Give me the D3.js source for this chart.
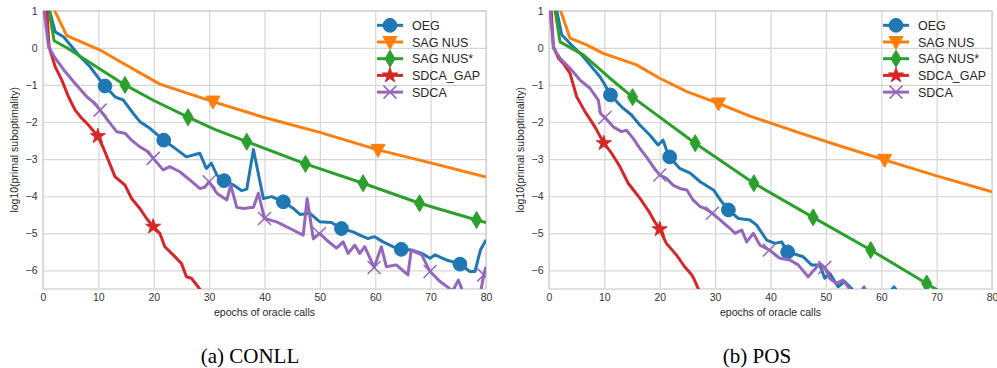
<!DOCTYPE html>
<html>
<head>
<meta charset="utf-8">
<script src="https://cdn.jsdelivr.net/npm/d3@7"></script>
<style>
body { margin: 0; background: #fff; }
</style>
</head>
<body>
<div id="chart"></div>
<script>

// ---- data ----
var xTicks = [0, 10, 20, 30, 40, 50, 60, 70, 80];
var yTicks = [1, 0, -1, -2, -3, -4, -5, -6];
var names = ["OEG", "SAG NUS", "SAG NUS*", "SDCA_GAP", "SDCA"];
var captions = ["(a) CONLL", "(b) POS"];

// CONLL
var conllOegX = [0, 1.2, 2.2, 3.7, 5.2, 6.7, 8.5, 10.3, 11.2, 13, 14.5, 16.3, 17.5, 19.3, 21.8, 23.5, 25.9, 28.3, 29.5, 30.4, 31.4, 32.7, 34.4, 35.9, 36.8, 38, 39.8, 41.3, 43.4, 45.2, 46.4, 48.2, 50, 52.1, 53.9, 56, 57.2, 58.7, 59.9, 61.4, 63.2, 64.7, 66.5, 68.4, 69.9, 70.8, 72.9, 75.3, 77.1, 78, 79, 80];
var conllOegY = [3, 1, 0.43, 0.3, 0.03, -0.24, -0.51, -0.87, -1.03, -1.32, -1.41, -1.77, -1.99, -2.17, -2.49, -2.67, -2.94, -2.84, -3.25, -3.11, -3.43, -3.58, -3.70, -3.85, -3.81, -2.74, -4.06, -4.01, -4.15, -4.33, -4.49, -4.46, -4.69, -4.71, -4.87, -4.96, -5.05, -5.14, -5.09, -5.23, -5.36, -5.43, -5.45, -5.54, -5.67, -5.58, -5.72, -5.83, -6.03, -6.03, -5.45, -5.18];
var conllOegMarks = [11.2, 21.8, 32.7, 43.4, 53.9, 64.7, 75.3];

var conllSagX = [0, 2.1, 4.3, 10.3, 13.9, 21.1, 30.7, 40, 50, 60.5, 70, 80];
var conllSagY = [3, 1, 0.33, -0.06, -0.37, -0.98, -1.45, -1.88, -2.28, -2.75, -3.1, -3.48];
var conllSagMarks = [30.7, 60.5];

var conllSagStarX = [0, 1.1, 2, 4.3, 9, 14.8, 20, 26.2, 31, 36.8, 47.4, 57.8, 68, 78.3, 80];
var conllSagStarY = [4, 1, 0.19, 0, -0.45, -1.0, -1.42, -1.87, -2.2, -2.53, -3.13, -3.65, -4.19, -4.64, -4.71];
var conllSagStarMarks = [14.8, 26.2, 36.8, 47.4, 57.8, 68, 78.3];

var conllGapX = [0, 0.7, 1.1, 2.2, 3.4, 4.6, 5.8, 7, 8.2, 9.9, 10.9, 12, 13, 14.8, 16, 17.5, 18.7, 19.9, 21.1, 22, 23.5, 25, 25.9, 26.8, 28.2, 30, 32];
var conllGapY = [2, 1, 0.03, -0.51, -0.87, -1.32, -1.68, -1.9, -2.08, -2.38, -2.7, -3.1, -3.47, -3.7, -4.06, -4.33, -4.6, -4.82, -5.0, -5.36, -5.58, -5.81, -6.17, -6.21, -6.48, -6.8, -7.2];
var conllGapMarks = [9.9, 19.9];

var conllSdcaX = [0, 0.2, 1, 2.2, 4, 5.8, 7.9, 9.4, 10.3, 12.1, 13.3, 14.8, 16, 17.5, 19, 19.9, 21.7, 22.9, 24.7, 26.5, 28.3, 29.2, 30, 31.4, 33.2, 33.9, 35, 36.2, 38, 38.9, 40, 42.2, 44.6, 47, 47.7, 48.8, 50, 51.2, 53, 54.2, 55.1, 56.3, 57.2, 58.1, 59.8, 61.1, 62, 63.8, 65.9, 66.5, 68.4, 69.9, 71.7, 72.9, 74, 75, 75.9, 77.5, 79, 79.6, 80];
var conllSdcaY = [1.5, 1, 0.03, -0.28, -0.64, -0.96, -1.32, -1.5, -1.68, -2.03, -2.26, -2.3, -2.49, -2.67, -2.8, -2.98, -3.29, -3.2, -3.34, -3.56, -3.79, -3.76, -3.61, -3.92, -4.1, -3.7, -4.3, -4.33, -4.3, -3.92, -4.6, -4.69, -4.87, -5.05, -4.06, -5.14, -5.0, -5.18, -5.4, -5.23, -5.54, -5.32, -5.54, -5.36, -5.92, -5.36, -5.9, -5.85, -6.12, -5.45, -5.58, -6.03, -6.3, -6.43, -6.55, -6.26, -6.6, -6.7, -6.6, -6.12, -5.9];
var conllSdcaMarks = [10.3, 19.9, 30, 40, 49.9, 59.8, 69.9, 79.6];

// POS
var posOegX = [0, 1.4, 2.3, 4.1, 5.9, 7.4, 9.2, 10.1, 11.1, 13.1, 14.9, 16.4, 18.2, 19.7, 20.6, 21.2, 21.8, 23.6, 25.5, 27.3, 29.7, 31.2, 32.4, 34.2, 36.3, 37.5, 39.3, 40.8, 42, 43.1, 45.9, 47.4, 48.9, 49.8, 50.7, 52.2, 53.4, 54.6, 56, 60, 61.5, 62.3, 63.1, 65];
var posOegY = [3, 1, 0.35, 0.07, -0.19, -0.46, -0.78, -1.0, -1.27, -1.59, -1.81, -2.08, -2.35, -2.62, -2.49, -2.75, -2.94, -3.25, -3.38, -3.61, -3.83, -4.15, -4.37, -4.6, -4.64, -4.78, -5.18, -5.27, -5.23, -5.5, -5.63, -5.85, -5.85, -6.21, -6.08, -6.44, -6.3, -6.48, -6.9, -6.9, -6.6, -6.44, -6.6, -7];
var posOegMarks = [11.1, 21.8, 32.4, 43.1];

var posSagX = [0, 2.1, 3.8, 6.8, 9.8, 15.8, 20, 24.9, 30.6, 36.3, 45, 52, 60.6, 70, 80];
var posSagY = [3, 1, 0.26, 0.08, -0.15, -0.46, -0.82, -1.18, -1.5, -1.84, -2.28, -2.62, -3.02, -3.45, -3.88];
var posSagMarks = [30.6, 60.6];

var posSagStarX = [0, 1.1, 2, 6.2, 11, 15.1, 26.4, 37, 47.7, 58.1, 68.2, 72];
var posSagStarY = [4, 1, 0.16, -0.19, -0.82, -1.33, -2.57, -3.65, -4.57, -5.45, -6.35, -6.7];
var posSagStarMarks = [15.1, 26.4, 37, 47.7, 58.1, 68.2];

var posGapX = [0, 0.4, 0.8, 1.7, 2.6, 3.8, 5, 6.5, 8.3, 9.9, 11.3, 12.8, 14.3, 15.5, 16.4, 17.3, 18.2, 19.1, 20, 21.2, 23, 24.5, 25.8, 26.4, 27, 29];
var posGapY = [2, 1, 0.03, -0.28, -0.42, -0.69, -1.32, -1.72, -2.13, -2.57, -2.84, -3.2, -3.65, -3.88, -4.05, -4.25, -4.45, -4.69, -4.89, -5.27, -5.58, -5.9, -6.12, -6.3, -6.51, -7];
var posGapMarks = [9.9, 20];

var posSdcaX = [0, 0.2, 0.8, 2, 3.8, 5.6, 7.4, 8.9, 9.3, 10.1, 11.6, 13.1, 14, 15.2, 16.4, 17.6, 18.8, 20, 21.2, 22.4, 23.6, 24.9, 26, 27.3, 28.2, 29.5, 30.9, 32.7, 33.6, 34.8, 35.7, 36.9, 38.1, 39.8, 41.7, 43.5, 45, 46.8, 48.9, 49.8, 50.7, 51.9, 53.1, 54.2, 55.5, 56.9, 58, 60];
var posSdcaY = [1.5, 1, -0.01, -0.28, -0.55, -0.87, -1.09, -1.41, -1.77, -1.88, -2.13, -2.26, -2.22, -2.44, -2.71, -2.94, -3.2, -3.43, -3.52, -3.7, -3.79, -3.83, -4.1, -4.28, -4.33, -4.46, -4.64, -4.87, -5.0, -4.91, -5.23, -5.0, -5.32, -5.45, -5.67, -5.72, -5.85, -6.17, -5.81, -5.92, -6.22, -6.35, -6.26, -6.48, -6.8, -6.44, -6.8, -7];
var posSdcaMarks = [10.1, 20, 29.5, 39.8, 49.8];

// ---- style ----
var colors = ["#1f77b4", "#ff7f0e", "#2ca02c", "#d62728", "#9467bd"];
var shapes = ["circle", "tri", "diamond", "star", "x"];
var sansFont = "'Liberation Sans', Arial, sans-serif";

var W = 997, H = 368;
var plotW = 443, plotTop = 10.7, plotBottom = 289;
var panelLeft = [43, 549];
var captionX = [250, 757];

var svg = d3.select("#chart").append("svg")
    .attr("width", W)
    .attr("height", H);

function markerPath(shape) {
    if (shape == "circle") return d3.symbol(d3.symbolCircle, 150)();
    if (shape == "star") return d3.symbol(d3.symbolStar, 70)();
    if (shape == "tri") return "M-7,-5.5L7,-5.5L0,7.5Z";
    if (shape == "diamond") return "M0,-8.5L5,0L0,8.5L-5,0Z";
    return "M-6.5,-6.5L6.5,6.5M-6.5,6.5L6.5,-6.5";
}

function drawMarker(g, shape, color, px, py) {
    var p = g.append("path")
        .attr("d", markerPath(shape))
        .attr("transform", "translate(" + px + "," + py + ")");
    if (shape == "x") {
        p.attr("fill", "none").attr("stroke", color).attr("stroke-width", 1.5);
    } else {
        p.attr("fill", color).attr("stroke", color).attr("stroke-width", 1);
    }
}

// linear interpolation of a series at epoch e
function valueAt(xs, ys, e) {
    var i = d3.bisectRight(xs, e) - 1;
    if (i < 0) return ys[0];
    if (i >= xs.length - 1) return ys[ys.length - 1];
    var t = (e - xs[i]) / (xs[i + 1] - xs[i]);
    return ys[i] + t * (ys[i + 1] - ys[i]);
}

function drawPanel(k, series) {
    var left = panelLeft[k];
    var x = d3.scaleLinear().domain([0, 80]).range([0, plotW]);
    var y = d3.scaleLinear().domain([-6.5, 1]).range([plotBottom - plotTop, 0]);
    var h = plotBottom - plotTop;

    var g = svg.append("g")
        .attr("transform", "translate(" + left + "," + plotTop + ")");

    // grid + tick labels
    var xAxis = g.append("g")
        .attr("transform", "translate(0," + h + ")")
        .call(d3.axisBottom(x).tickValues(xTicks).tickSize(-h).tickPadding(4.3));
    var yAxis = g.append("g")
        .call(d3.axisLeft(y).tickValues(yTicks).tickSize(-plotW).tickPadding(5.5));

    [xAxis, yAxis].forEach(function(a) {
        a.select(".domain").remove();
        a.selectAll("line").attr("stroke", "#d6d6d6").attr("stroke-width", 1.2);
        a.selectAll("text")
            .attr("fill", "#333")
            .attr("font-family", sansFont)
            .attr("font-size", "10.5px");
    });

    g.append("rect")
        .attr("width", plotW)
        .attr("height", h)
        .attr("fill", "none")
        .attr("stroke", "#d6d6d6")
        .attr("stroke-width", 1.5);

    var clipId = "clip" + k;
    g.append("clipPath").attr("id", clipId)
        .append("rect").attr("width", plotW).attr("height", h);

    var plot = g.append("g").attr("clip-path", "url(#" + clipId + ")");

    var line = d3.line()
        .x(function(d) { return x(d[0]); })
        .y(function(d) { return y(d[1]); });

    series.forEach(function(s, i) {
        var pts = s.x.map(function(v, j) { return [v, s.y[j]]; });
        plot.append("path")
            .datum(pts)
            .attr("fill", "none")
            .attr("stroke", colors[i])
            .attr("stroke-width", 3)
            .attr("stroke-linejoin", "round")
            .attr("d", line);
        s.marks.forEach(function(e) {
            drawMarker(plot, shapes[i], colors[i], x(e), y(valueAt(s.x, s.y, e)));
        });
    });

    // legend
    var lg = g.append("g").attr("transform", "translate(347," + (25.3 - plotTop) + ")");
    names.forEach(function(n, i) {
        var row = lg.append("g").attr("transform", "translate(0," + (i * 16.7) + ")");
        row.append("line")
            .attr("x1", -13).attr("x2", 13)
            .attr("stroke", colors[i])
            .attr("stroke-width", 3);
        drawMarker(row, shapes[i], colors[i], 0, 0);
        row.append("text")
            .attr("x", 22)
            .attr("dy", "0.36em")
            .attr("font-family", sansFont)
            .attr("font-size", "12.5px")
            .attr("fill", "#262626")
            .text(n);
    });

    // axis labels
    g.append("text")
        .attr("x", plotW / 2)
        .attr("y", 316 - plotTop)
        .attr("text-anchor", "middle")
        .attr("font-family", sansFont)
        .attr("font-size", "10.5px")
        .attr("fill", "#262626")
        .text("epochs of oracle calls");

    g.append("text")
        .attr("transform", "translate(-25," + (h / 2) + ") rotate(-90)")
        .attr("text-anchor", "middle")
        .attr("font-family", sansFont)
        .attr("font-size", "10.5px")
        .attr("fill", "#262626")
        .text("log10(primal suboptimality)");

    svg.append("text")
        .attr("x", captionX[k])
        .attr("y", 363)
        .attr("text-anchor", "middle")
        .attr("font-family", "'Liberation Serif', 'Times New Roman', serif")
        .attr("font-size", "21px")
        .attr("fill", "#000")
        .text(captions[k]);
}

drawPanel(0, [
    { x: conllOegX, y: conllOegY, marks: conllOegMarks },
    { x: conllSagX, y: conllSagY, marks: conllSagMarks },
    { x: conllSagStarX, y: conllSagStarY, marks: conllSagStarMarks },
    { x: conllGapX, y: conllGapY, marks: conllGapMarks },
    { x: conllSdcaX, y: conllSdcaY, marks: conllSdcaMarks }
]);

drawPanel(1, [
    { x: posOegX, y: posOegY, marks: posOegMarks },
    { x: posSagX, y: posSagY, marks: posSagMarks },
    { x: posSagStarX, y: posSagStarY, marks: posSagStarMarks },
    { x: posGapX, y: posGapY, marks: posGapMarks },
    { x: posSdcaX, y: posSdcaY, marks: posSdcaMarks }
]);

</script>
</body>
</html>
